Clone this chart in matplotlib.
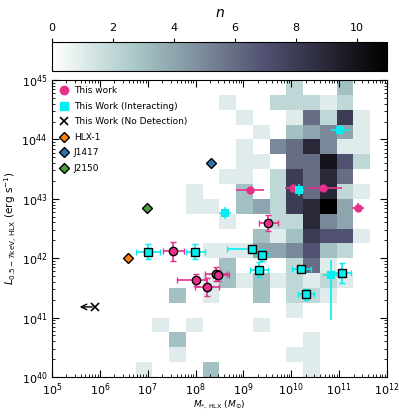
import numpy as np
import matplotlib
matplotlib.use("Agg")
import matplotlib.pyplot as plt
from matplotlib.lines import Line2D

# 2D histogram of the comparison sample: 20 x 20 bins over the axis range
# rows go from bottom (1e40) to top (1e45), columns from 1e5 to 1e12
x_edges_log = np.linspace(5, 12, 21)
y_edges_log = np.linspace(40, 45, 21)
counts = [
    [0, 0, 0, 0, 0, 1, 0, 0, 0, 3, 0, 0, 0, 0, 0, 1, 0, 0, 0, 0],
    [0, 0, 0, 0, 0, 0, 0, 1, 0, 0, 0, 0, 0, 0, 1, 1, 0, 0, 0, 0],
    [0, 0, 0, 0, 0, 0, 0, 3, 0, 0, 0, 0, 0, 0, 0, 1, 0, 0, 0, 0],
    [0, 0, 0, 0, 0, 0, 1, 0, 1, 0, 0, 0, 1, 0, 0, 0, 0, 0, 0, 0],
    [0, 0, 0, 0, 0, 0, 0, 0, 0, 0, 0, 0, 0, 0, 1, 0, 0, 0, 0, 0],
    [0, 0, 0, 0, 0, 0, 0, 3, 0, 1, 0, 0, 3, 0, 2, 2, 1, 0, 0, 0],
    [0, 0, 0, 0, 0, 0, 0, 0, 0, 1, 3, 1, 3, 1, 2, 1, 2, 1, 0, 0],
    [0, 0, 0, 0, 0, 0, 0, 0, 0, 0, 3, 0, 0, 0, 2, 6, 1, 0, 0, 0],
    [0, 0, 0, 0, 0, 0, 0, 0, 0, 1, 1, 1, 4, 4, 5, 7, 3, 2, 0, 0],
    [0, 0, 0, 0, 0, 0, 0, 0, 0, 0, 0, 0, 3, 1, 3, 8, 7, 7, 1, 0],
    [0, 0, 0, 0, 0, 0, 0, 0, 0, 0, 1, 0, 0, 2, 2, 9, 5, 4, 0, 0],
    [0, 0, 0, 0, 0, 0, 0, 0, 1, 1, 0, 3, 4, 2, 8, 9, 11, 4, 0, 0],
    [0, 0, 0, 0, 0, 0, 0, 0, 1, 0, 0, 3, 0, 2, 8, 6, 9, 2, 1, 0],
    [0, 0, 0, 0, 0, 0, 0, 0, 0, 0, 1, 1, 0, 2, 8, 6, 9, 6, 0, 0],
    [0, 0, 0, 0, 0, 0, 0, 0, 0, 0, 0, 1, 1, 0, 6, 6, 10, 7, 2, 0],
    [0, 0, 0, 0, 0, 0, 0, 0, 0, 0, 0, 1, 0, 5, 6, 9, 5, 1, 1, 0],
    [0, 0, 0, 0, 0, 0, 0, 0, 0, 0, 0, 0, 1, 0, 3, 4, 5, 4, 1, 0],
    [0, 0, 0, 0, 0, 0, 0, 0, 0, 0, 0, 1, 0, 0, 1, 6, 2, 8, 1, 0],
    [0, 0, 0, 0, 0, 0, 0, 0, 0, 0, 1, 0, 0, 2, 2, 2, 1, 2, 0, 0],
    [0, 0, 0, 0, 0, 0, 0, 0, 0, 0, 0, 0, 0, 0, 2, 0, 0, 3, 0, 0],
]

# This work, in log10 (mass, luminosity) with errors in dex
tw_logm = [9.14, 10.04, 10.67, 11.39]
tw_logl = [43.15, 43.19, 43.18, 42.85]
tw_xlo = [0.30, 0.17, 0.35, 0.12]
tw_xhi = [0.30, 0.17, 0.40, 0.12]
tw_ylo = [0.03, 0.03, 0.03, 0.08]
tw_yhi = [0.03, 0.03, 0.03, 0.08]

# This work, outlined
two_logm = [9.52, 7.53, 8.00, 8.24, 8.42, 8.47]
two_logl = [42.59, 42.12, 41.64, 41.51, 41.73, 41.71]
two_xlo = [0.20, 0.22, 0.38, 0.25, 0.23, 0.10]
two_xhi = [0.20, 0.22, 0.22, 0.25, 0.23, 0.23]
two_ylo = [0.13, 0.16, 0.10, 0.15, 0.12, 0.10]
two_yhi = [0.13, 0.16, 0.10, 0.15, 0.12, 0.10]

# This work (interacting), outlined
int_logm = [7.00, 7.99, 9.18, 9.39, 9.33, 10.21, 10.31, 11.07]
int_logl = [42.11, 42.11, 42.16, 42.06, 41.81, 41.82, 41.39, 41.75]
int_xlo = [0.25, 0.20, 0.53, 0.15, 0.19, 0.20, 0.17, 0.17]
int_xhi = [0.25, 0.20, 0.10, 0.15, 0.19, 0.20, 0.17, 0.17]
int_ylo = [0.13, 0.13, 0.05, 0.10, 0.12, 0.05, 0.10, 0.17]
int_yhi = [0.13, 0.13, 0.05, 0.10, 0.12, 0.05, 0.10, 0.17]

# This work (interacting), plain
intp_logm = [8.61, 11.02, 10.16, 10.82]
intp_logl = [42.76, 44.16, 43.15, 41.71]
intp_xlo = [0.13, 0.20, 0.11, 0.15]
intp_xhi = [0.13, 0.20, 0.11, 0.15]
intp_ylo = [0.10, 0.05, 0.10, 0.75]
intp_yhi = [0.10, 0.05, 0.10, 0.26]

# no detection (upper limit in mass)
nd_logm = 5.90
nd_logl = 41.18

others = ["HLX-1", "J1417", "J2150"]
others_logm = [6.59, 8.33, 6.99]
others_logl = [42.00, 43.61, 42.85]
others_color = ["#ff7f0e", "#2f73b0", "#4a9f3a"]

x_ticks = [1e5, 1e6, 1e7, 1e8, 1e9, 1e10, 1e11, 1e12]
y_ticks = [1e40, 1e41, 1e42, 1e43, 1e44, 1e45]
cb_ticks = [0, 2, 4, 6, 8, 10]

pink = "#e8308a"
cyan = "#00f0f0"


def draw(ax, logm, logl, xlo, xhi, ylo, yhi, color, marker, edge):
    logm = np.array(logm)
    logl = np.array(logl)
    x = 10 ** logm
    y = 10 ** logl
    xerr = [x - 10 ** (logm - np.array(xlo)), 10 ** (logm + np.array(xhi)) - x]
    yerr = [y - 10 ** (logl - np.array(ylo)), 10 ** (logl + np.array(yhi)) - y]
    ax.errorbar(x, y, xerr=xerr, yerr=yerr, fmt=marker, color=color,
                ecolor=color, elinewidth=1.2, capsize=2.5, capthick=1.2,
                ms=6, mfc=color, mec=edge, mew=1.0 if edge != color else 0,
                zorder=4)


fig = plt.figure(figsize=(3.99, 4.19), dpi=100)
ax = fig.add_axes([0.1303, 0.1002, 0.8396, 0.7088])
cax = fig.add_axes([0.1303, 0.8305, 0.8396, 0.0692])

xe = 10 ** x_edges_log
ye = 10 ** y_edges_log
grid = np.ma.masked_equal(np.array(counts, dtype=float), 0)
mesh = ax.pcolormesh(xe, ye, grid, cmap="bone_r", vmin=0, vmax=11, zorder=1)

draw(ax, tw_logm, tw_logl, tw_xlo, tw_xhi, tw_ylo, tw_yhi, pink, "o", pink)
draw(ax, two_logm, two_logl, two_xlo, two_xhi, two_ylo, two_yhi, pink, "o", "black")
draw(ax, intp_logm, intp_logl, intp_xlo, intp_xhi, intp_ylo, intp_yhi, cyan, "s", cyan)
draw(ax, int_logm, int_logl, int_xlo, int_xhi, int_ylo, int_yhi, cyan, "s", "black")

ax.plot(10 ** nd_logm, 10 ** nd_logl, "x", color="black", ms=6, mew=1.2, zorder=4)
ax.annotate("", xy=(10 ** (nd_logm - 0.38), 10 ** nd_logl),
            xytext=(10 ** nd_logm, 10 ** nd_logl),
            arrowprops=dict(arrowstyle="->", color="black", lw=1.0))

for name, lm, ll, c in zip(others, others_logm, others_logl, others_color):
    ax.plot(10 ** lm, 10 ** ll, "D", color=c, mec="black", mew=1.0, ms=5.5, zorder=4)

ax.set_xscale("log")
ax.set_yscale("log")
ax.set_xticks(x_ticks)
ax.set_yticks(y_ticks)
ax.xaxis.set_minor_locator(matplotlib.ticker.LogLocator(base=10, subs=np.arange(2, 10), numticks=20))
ax.yaxis.set_minor_locator(matplotlib.ticker.LogLocator(base=10, subs=np.arange(2, 10), numticks=20))
ax.set_xlim(1e5, 1e12)
ax.set_ylim(1e40, 1e45)
ax.tick_params(which="both", direction="in", top=True, right=True, labelsize=8)
ax.tick_params(which="major", length=5)
ax.tick_params(which="minor", length=2.5)
ax.set_xlabel(r"$M_{*,\,\rm HLX}$ ($M_{\odot}$)", fontsize=6.5, labelpad=0)
ax.set_ylabel(r"$L_{0.5-7\rm keV,\,HLX}$ (erg s$^{-1}$)", fontsize=7.5, labelpad=2)

handles = [
    Line2D([], [], marker="o", ls="", color=pink, ms=6),
    Line2D([], [], marker="s", ls="", color=cyan, ms=6),
    Line2D([], [], marker="x", ls="", color="black", ms=6, mew=1.2),
]
labels = ["This work", "This Work (Interacting)", "This Work (No Detection)"]
for name, c in zip(others, others_color):
    handles.append(Line2D([], [], marker="D", ls="", color=c, mec="black", mew=1.0, ms=5.5))
    labels.append(name)
ax.legend(handles, labels, loc="upper left", frameon=False, fontsize=6.5,
          handletextpad=0.5, labelspacing=0.72, borderaxespad=0.3, handlelength=1.2)

cb = fig.colorbar(mesh, cax=cax, orientation="horizontal")
cb.set_ticks(cb_ticks)
cax.xaxis.set_ticks_position("top")
cax.xaxis.set_label_position("top")
cax.tick_params(labelsize=8, length=3)
cb.set_label(r"$n$", fontsize=10)

fig.savefig("out.png", dpi=100)
